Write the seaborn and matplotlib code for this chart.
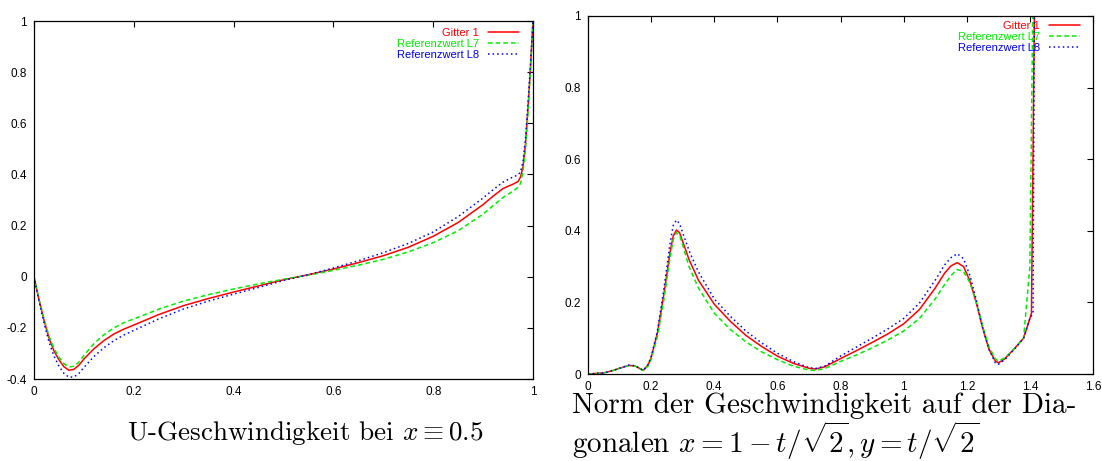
import seaborn as sns
import matplotlib.pyplot as plt

# --- left panel: U velocity along the vertical centre line x = 0.5 ---
y_pos = [0, 0.01, 0.02, 0.03, 0.04, 0.05, 0.06, 0.07, 0.08, 0.09, 0.10, 0.12, 0.14,
         0.16, 0.18, 0.2, 0.25, 0.3, 0.35, 0.4, 0.45, 0.5, 0.55, 0.6, 0.65, 0.7, 0.75,
         0.8, 0.85, 0.9, 0.92, 0.94, 0.96, 0.97, 0.975, 0.98, 0.985, 0.99, 0.995, 1.0]
u_gitter1 = [0, -0.09, -0.17, -0.24, -0.29, -0.325, -0.352, -0.366, -0.362, -0.346,
             -0.322, -0.282, -0.25, -0.224, -0.205, -0.189, -0.148, -0.113, -0.085,
             -0.06, -0.036, -0.012, 0.008, 0.03, 0.055, 0.082, 0.115, 0.158, 0.212,
             0.282, 0.315, 0.345, 0.362, 0.372, 0.39, 0.43, 0.52, 0.66, 0.82, 1.0]
u_ref_l7 = [0, -0.088, -0.165, -0.232, -0.28, -0.315, -0.34, -0.353, -0.35, -0.334,
            -0.308, -0.262, -0.227, -0.2, -0.18, -0.165, -0.127, -0.095, -0.07,
            -0.048, -0.028, -0.01, 0.006, 0.025, 0.045, 0.068, 0.097, 0.133, 0.18,
            0.245, 0.278, 0.31, 0.335, 0.35, 0.365, 0.41, 0.5, 0.64, 0.81, 1.0]
u_ref_l8 = [0, -0.095, -0.18, -0.255, -0.31, -0.35, -0.378, -0.393, -0.392, -0.378,
            -0.355, -0.312, -0.278, -0.25, -0.228, -0.21, -0.165, -0.126, -0.095,
            -0.068, -0.042, -0.015, 0.008, 0.034, 0.062, 0.094, 0.13, 0.175, 0.235,
            0.308, 0.34, 0.37, 0.39, 0.398, 0.41, 0.45, 0.54, 0.68, 0.83, 1.0]

# --- right panel: velocity norm along the diagonal ---
diag_t = [0, 0.05, 0.08, 0.1, 0.13, 0.15, 0.175, 0.19, 0.2, 0.22, 0.24, 0.26, 0.27,
          0.28, 0.29, 0.3, 0.32, 0.35, 0.4, 0.45, 0.5, 0.55, 0.6, 0.65, 0.7, 0.72,
          0.75, 0.8, 0.85, 0.9, 0.95, 1.0, 1.05, 1.1, 1.13, 1.15, 1.17, 1.19, 1.21,
          1.23, 1.25, 1.27, 1.29, 1.3, 1.32, 1.35, 1.38, 1.4]
norm_gitter1 = [0, 0.003, 0.01, 0.016, 0.024, 0.022, 0.01, 0.025, 0.045, 0.115, 0.22,
                0.34, 0.385, 0.402, 0.395, 0.37, 0.32, 0.262, 0.195, 0.148, 0.108,
                0.077, 0.05, 0.03, 0.016, 0.014, 0.02, 0.043, 0.065, 0.088, 0.112,
                0.14, 0.18, 0.24, 0.282, 0.302, 0.311, 0.3, 0.26, 0.2, 0.13, 0.07,
                0.037, 0.031, 0.042, 0.07, 0.1, 0.155]
norm_ref_l7 = [0, 0.003, 0.01, 0.016, 0.024, 0.022, 0.01, 0.022, 0.04, 0.105, 0.205,
               0.325, 0.375, 0.395, 0.388, 0.36, 0.3, 0.24, 0.17, 0.125, 0.09, 0.062,
               0.04, 0.022, 0.011, 0.01, 0.015, 0.035, 0.053, 0.073, 0.095, 0.12,
               0.155, 0.21, 0.25, 0.275, 0.292, 0.286, 0.255, 0.2, 0.135, 0.077,
               0.043, 0.036, 0.045, 0.07, 0.1, 0.3]
norm_ref_l8 = [0, 0.003, 0.01, 0.016, 0.025, 0.023, 0.01, 0.026, 0.048, 0.12, 0.235,
               0.365, 0.415, 0.43, 0.42, 0.395, 0.345, 0.285, 0.21, 0.162, 0.12,
               0.087, 0.058, 0.035, 0.018, 0.015, 0.022, 0.05, 0.075, 0.1, 0.126,
               0.155, 0.198, 0.262, 0.305, 0.325, 0.336, 0.322, 0.275, 0.208, 0.13,
               0.07, 0.032, 0.027, 0.04, 0.068, 0.1, 0.155]
# the jump at the corner t = sqrt(2)
tail_t_gitter1, tail_gitter1 = [1.405, 1.4142], [0.17, 1.0]
tail_t_l7, tail_l7 = [1.409], [1.0]
tail_t_l8, tail_l8 = [1.41, 1.4142], [0.17, 1.0]

labels = ["Gitter 1", "Referenzwert L7", "Referenzwert L8"]
colors = ["#ff0000", "#00ee00", "#0000ff"]
styles = ["-", (0, (3, 2)), (0, (1, 2))]

left_xticks = [0, 0.2, 0.4, 0.6, 0.8, 1]
left_xlabels = ["0", "0.2", "0.4", "0.6", "0.8", "1"]
left_yticks = [-0.4, -0.2, 0, 0.2, 0.4, 0.6, 0.8, 1]
left_ylabels = ["-0.4", "-0.2", "0", "0.2", "0.4", "0.6", "0.8", "1"]
right_xticks = [0, 0.2, 0.4, 0.6, 0.8, 1, 1.2, 1.4, 1.6]
right_xlabels = ["0", "0.2", "0.4", "0.6", "0.8", "1", "1.2", "1.4", "1.6"]
right_yticks = [0, 0.2, 0.4, 0.6, 0.8, 1]
right_ylabels = ["0", "0.2", "0.4", "0.6", "0.8", "1"]

sns.set_style("white")
plt.rcParams["font.family"] = ["Liberation Sans Narrow", "Liberation Sans", "DejaVu Sans"]
plt.rcParams["mathtext.fontset"] = "cm"

fig = plt.figure(figsize=(11.02, 4.61), dpi=100)
ax1 = fig.add_axes([34 / 1102, 1 - 379 / 461, 499 / 1102, 358 / 461])
ax2 = fig.add_axes([588 / 1102, 1 - 374 / 461, 505 / 1102, 358 / 461])

left_series = [u_gitter1, u_ref_l7, u_ref_l8]
for vals, lab, col, ls in zip(left_series, labels, colors, styles):
    sns.lineplot(x=y_pos, y=vals, ax=ax1, color=col, linestyle=ls, linewidth=1.1,
                 label=lab, sort=False, estimator=None)

right_series = [
    (diag_t + tail_t_gitter1, norm_gitter1 + tail_gitter1),
    (diag_t + tail_t_l7, norm_ref_l7 + tail_l7),
    (diag_t + tail_t_l8, norm_ref_l8 + tail_l8),
]
for (tt, vals), lab, col, ls in zip(right_series, labels, colors, styles):
    sns.lineplot(x=tt, y=vals, ax=ax2, color=col, linestyle=ls, linewidth=1.1,
                 label=lab, sort=False, estimator=None)

panels = [(ax1, left_xticks, left_xlabels, left_yticks, left_ylabels, (0.972, 0.98)),
          (ax2, right_xticks, right_xlabels, right_yticks, right_ylabels, (0.974, 0.985))]
for ax, xt, xl, yt, yl, anchor in panels:
    ax.set_xlim(xt[0], xt[-1])
    ax.set_ylim(yt[0], yt[-1])
    ax.set_xticks(xt)
    ax.set_xticklabels(xl)
    ax.set_yticks(yt)
    ax.set_yticklabels(yl)
    ax.tick_params(direction="in", length=4, width=0.8, top=True, right=True,
                   labelsize=8.5, pad=5, colors="black")
    for sp in ax.spines.values():
        sp.set_color("black")
        sp.set_linewidth(0.9)
    leg = ax.legend(loc="upper right", bbox_to_anchor=anchor, frameon=False,
                    markerfirst=False, labelcolor="linecolor", fontsize=8,
                    handlelength=2.8, handletextpad=0.8, labelspacing=0.08,
                    borderaxespad=0, borderpad=0)
    for t in leg.get_texts():
        t.set_ha("right")

fig.text(0.277, 1 - 440 / 461, r"U-Geschwindigkeit bei $x \equiv 0.5$",
         ha="center", family="cmr10", fontsize=19.5, color="black")
fig.text(572 / 1102, 1 - 413 / 461, r"Norm der Geschwindigkeit auf der Dia-",
         ha="left", family="cmr10", fontsize=21, color="black")
fig.text(572 / 1102, 1 - 453 / 461, r"gonalen $x = 1 - t/\sqrt{2}, y = t/\sqrt{2}$",
         ha="left", family="cmr10", fontsize=21, color="black")

fig.savefig("out.png", dpi=100)
